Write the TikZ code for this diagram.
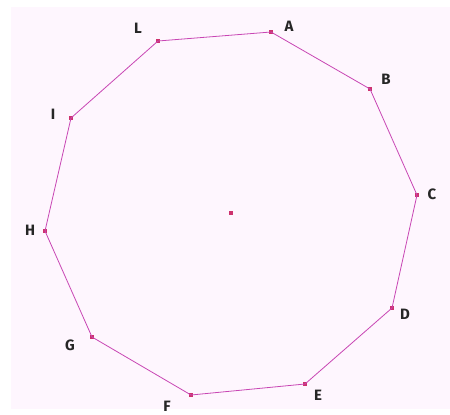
\documentclass[tikz,border=0pt]{standalone}
\usepackage{fontspec}
\setmainfont{Fira Sans}
\definecolor{bgpink}{RGB}{254,246,254}
\definecolor{edgec}{RGB}{200,70,180}
\definecolor{ptc}{RGB}{205,50,110}
\begin{document}
\begin{tikzpicture}[x=1pt,y=-1pt,
  vtx/.style={fill=ptc,minimum size=3.2pt,inner sep=0pt,outer sep=0pt},
  lbl/.style={font=\fontsize{15}{15}\selectfont\bfseries,text=black!85,inner sep=0pt},
  edge/.style={draw=edgec,line width=0.8pt}]
\useasboundingbox (0,0) rectangle (450,415);
\fill[white] (0,0) rectangle (450,415);
\fill[bgpink] (11,7) rectangle (450,409);
\node[vtx] (A) at (271,32) {};
\node[vtx] (B) at (370,89) {};
\node[vtx] (C) at (417,195) {};
\node[vtx] (D) at (392,308) {};
\node[vtx] (E) at (305,384) {};
\node[vtx] (F) at (191,395) {};
\node[vtx] (G) at (92,337) {};
\node[vtx] (H) at (45,231) {};
\node[vtx] (I) at (71,118) {};
\node[vtx] (L) at (158,41) {};
\node[vtx] (O) at (231,213) {};
\draw[edge] (A.center) -- (B.center) -- (C.center) -- (D.center) -- (E.center) -- (F.center) -- (G.center) -- (H.center) -- (I.center) -- (L.center) -- cycle;
\node[lbl] (lA) at (289,26) {A};
\node[lbl] (lB) at (386,79) {B};
\node[lbl] (lC) at (432,194) {C};
\node[lbl] (lD) at (405,314) {D};
\node[lbl] (lE) at (318,395) {E};
\node[lbl] (lF) at (167,406) {F};
\node[lbl] (lG) at (70,345) {G};
\node[lbl] (lH) at (30,230) {H};
\node[lbl] (lI) at (53,114) {I};
\node[lbl] (lL) at (138,28) {L};
\end{tikzpicture}
\end{document}
